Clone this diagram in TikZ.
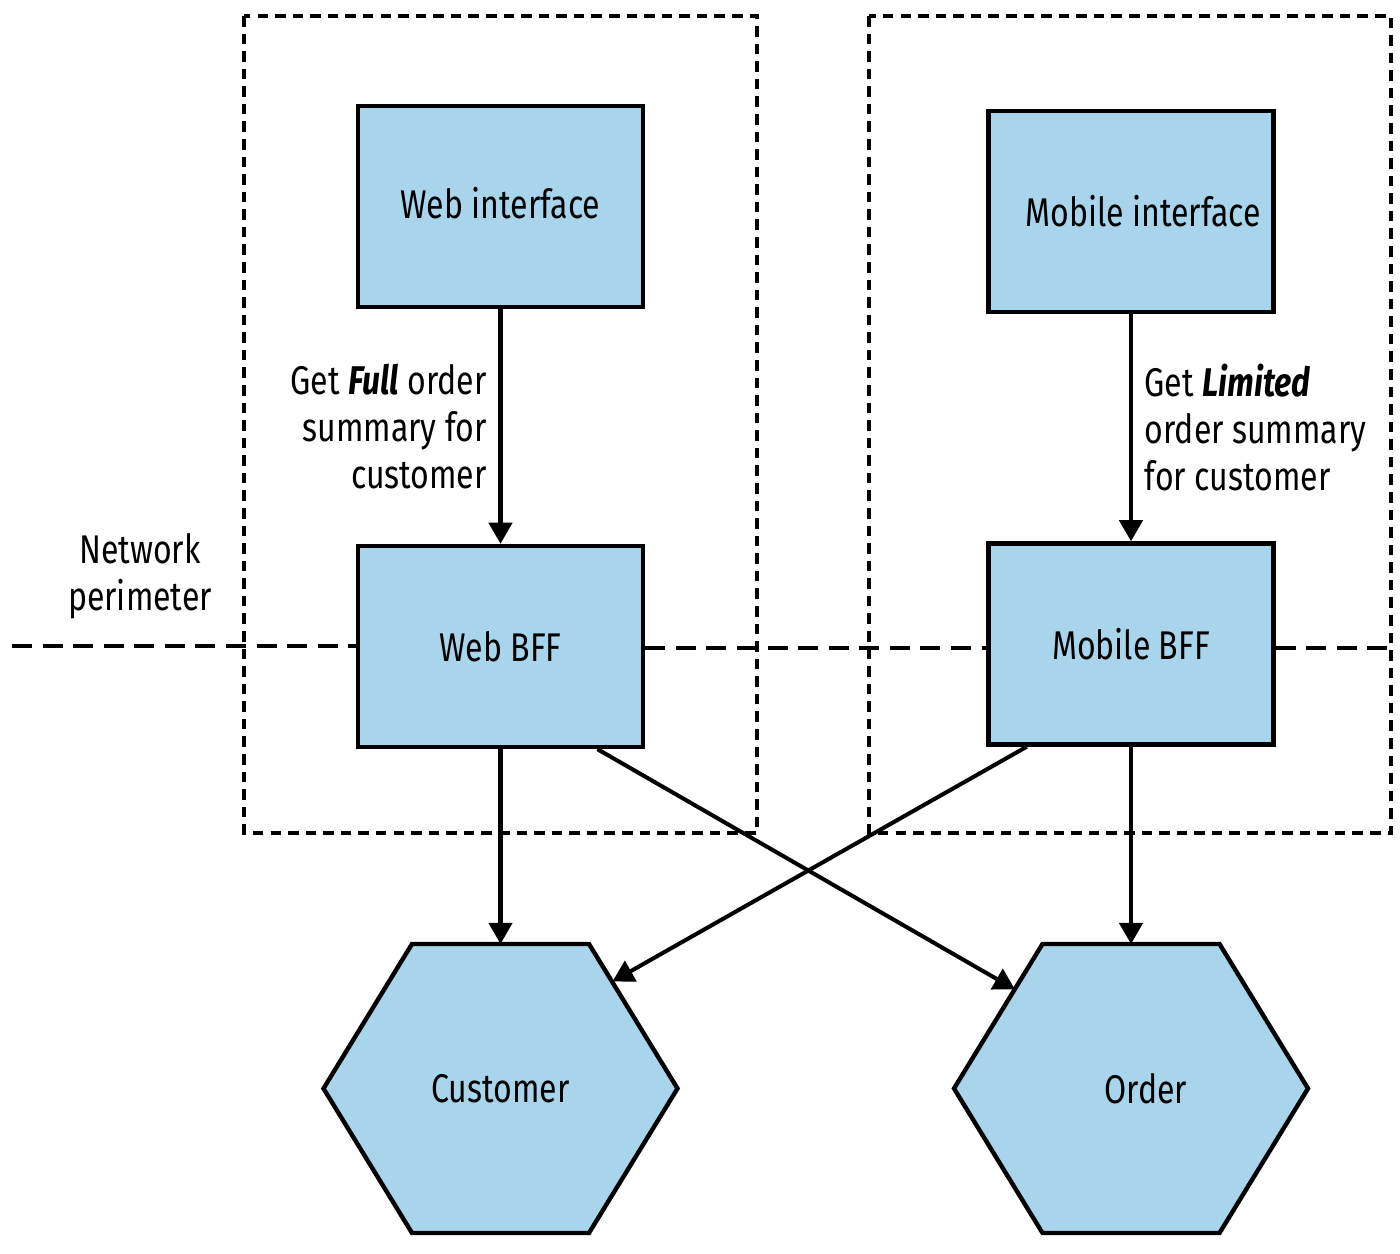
\documentclass[tikz,border=0pt]{standalone}
\usepackage{fontspec}
\setmainfont[FakeStretch=0.8]{Fira Sans}
\usepackage{xcolor}
\usepackage{tikz}
\usetikzlibrary{arrows.meta,calc}
\definecolor{bffblue}{RGB}{168,213,236}
\newcommand*{\hexa}[3]{\coordinate(#1)at(#2);\filldraw[draw=black,fill=bffblue,line width=1.25pt]($(#1)+(-1.77,0)$)--++(0.885,1.445)--++(1.77,0)--++(0.885,-1.445)--++(-0.885,-1.445)--++(-1.77,0)--cycle;\node(#1label)at(#1){#3};\coordinate(#1top)at($(#1)+(0,1.445)$);}

\begin{document}
\begin{tikzpicture}[font=\fontsize{11.4}{13.4}\selectfont,
  box/.style={draw,line width=1.25pt,fill=bffblue,minimum width=2.85cm,minimum height=2.01cm},
  conn/.style={line width=1.15pt,-{Triangle[length=6pt,width=6.6pt]}},
  zone/.style={line width=1.1pt,dash pattern=on 3pt off 2pt},
  perim/.style={line width=1.1pt,dash pattern=on 5.7pt off 3pt}]
\useasboundingbox(0,0)rectangle(14,12.54);
%\draw[help lines](0,0)grid(14,12);
\draw[zone](2.44,12.38)rectangle(7.57,4.21);
\draw[zone](8.69,12.38)rectangle(13.91,4.21);

\node[box](webui)at(5.005,10.475){\raisebox{0.08cm}{Web interface}};
\node[box](mobui)at(11.31,10.425){\hspace*{0.24cm}Mobile interface};
\node[box](webbff)at(5.005,6.075){Web BFF};
\node[box](mobbff)at(11.31,6.10){Mobile BFF};
\hexa{cust}{5.005,1.655}{Customer}
\hexa{ord}{11.31,1.655}{\hspace*{0.3cm}Order}
\coordinate(custne)at($(cust)+(1.12,1.07)$);
\coordinate(ordnw)at($(ord)+(-1.16,0.99)$);

\node[align=center](netlabel)at(1.40,6.78){Network\\perimeter};
\coordinate(pleft)at(0.12,6.08);
\coordinate(pright)at(13.9,6.06);
\draw[perim](pleft)--(pleft-|webbff.west);
\draw[perim](pright-|webbff.east)--(pright-|mobbff.west);
\draw[perim](pright-|mobbff.east)--(pright);

\draw[conn](webui)--node[left,align=right]{Get \textbf{\textit{Full}} order\\summary for\\customer}(webbff);
\draw[conn](mobui)--node[right,align=left]{Get \textbf{\textit{Limited}}\\order summary\\for customer}(mobbff);
\draw[conn](webbff)--(custtop);
\draw[conn](mobbff)--(ordtop);
\draw[conn]($(webbff.south)!0.67!(webbff.south east)$)--(ordnw);
\draw[conn]($(mobbff.south)!0.72!(mobbff.south west)$)--(custne);
\end{tikzpicture}
\end{document}
